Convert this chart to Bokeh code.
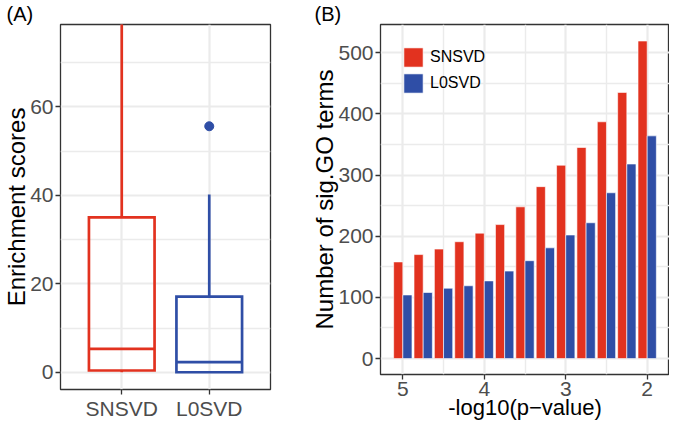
from bokeh.plotting import figure
from bokeh.layouts import row, column
from bokeh.models import (FactorRange, Range1d, FixedTicker, ColumnDataSource,
                          Legend, LegendItem)
from bokeh.transform import dodge
from bokeh.embed import file_html
from bokeh.resources import INLINE

# ---------------- data ----------------
methods = ["SNSVD", "L0SVD"]
box_lower = [0.0, 0.0]
box_q1 = [0.4, 0.0]
box_median = [5.3, 2.3]
box_q3 = [35.0, 17.1]
box_upper = [90.0, 40.2]
outlier_method = ["L0SVD"]
outlier_value = [55.6]

neglog10_p = [5.0, 4.75, 4.5, 4.25, 4.0, 3.75, 3.5, 3.25, 3.0, 2.75, 2.5, 2.25, 2.0]
sig_go_snsvd = [158, 170, 179, 191, 205, 219, 248, 281, 316, 345, 387, 435, 519]
sig_go_l0svd = [104, 108, 115, 119, 127, 143, 160, 181, 202, 222, 271, 318, 364]

a_yticks = [0, 20, 40, 60]
a_yminor = [10, 30, 50, 70]
b_xticks = [2, 3, 4, 5]
b_xminor = [2.5, 3.5, 4.5]
b_yticks = [0, 100, 200, 300, 400, 500]
b_yminor = [50, 150, 250, 350, 450]

# ---------------- style ----------------
RED = "#E2321F"
BLUE = "#2F4EA6"
FONT = "Liberation Sans"
GRID = "#EBEBEB"
DARK = "#333333"
TICKLAB = "#4D4D4D"


def style(p, tag, tag_offset):
    p.outline_line_color = DARK
    p.outline_line_width = 1.3
    p.background_fill_color = "white"
    p.border_fill_color = "white"
    for ax in (p.xaxis, p.yaxis):
        ax.axis_line_color = None
        ax.major_tick_line_color = DARK
        ax.major_tick_line_width = 1.3
        ax.major_tick_out = 5
        ax.major_tick_in = 0
        ax.minor_tick_line_color = None
        ax.major_label_text_font = FONT
        ax.major_label_text_font_size = "21px"
        ax.major_label_text_color = TICKLAB
        ax.major_label_standoff = 2
        ax.axis_label_text_font = FONT
        ax.axis_label_text_font_size = "24px"
        ax.axis_label_text_font_style = "normal"
        ax.axis_label_text_color = "black"
        ax.axis_label_standoff = -3
    for ax in p.xaxis:
        ax.major_label_text_line_height = 0.8
        ax.axis_label_text_line_height = 0.8
    for g in (p.xgrid, p.ygrid):
        g.grid_line_color = GRID
        g.grid_line_width = 2.2
        g.minor_grid_line_color = GRID
        g.minor_grid_line_width = 1.4
    p.title.text = tag
    p.title.align = "left"
    p.title.offset = tag_offset
    p.title.standoff = 0
    p.title.text_font = FONT
    p.title.text_font_size = "20px"
    p.title.text_font_style = "normal"
    p.title.text_color = "black"
    p.title.text_line_height = 0.5


# ---------------- panel A ----------------
pA = figure(width=284, height=422,
            x_range=FactorRange(factors=methods, range_padding=0.2,
                                range_padding_units="absolute"),
            y_range=Range1d(-3.9, 78.6),
            output_backend="svg", toolbar_location=None,
            min_border_left=50, min_border_right=14,
            min_border_top=8, min_border_bottom=26)
style(pA, "(A)", -54)
pA.yaxis.ticker = FixedTicker(ticks=a_yticks, minor_ticks=a_yminor)
pA.yaxis.axis_label = "Enrichment scores"
pA.xaxis.axis_label_standoff = 0
pA.xgrid.minor_grid_line_color = None

srcA = ColumnDataSource(dict(method=methods, lower=box_lower, q1=box_q1,
                             median=box_median, q3=box_q3, upper=box_upper,
                             color=[RED, BLUE]))
lw = 2.7
pA.segment(x0="method", x1="method", y0="q3", y1="upper", line_color="color",
           line_width=lw, source=srcA)
pA.segment(x0="method", x1="method", y0="q1", y1="lower", line_color="color",
           line_width=lw, source=srcA)
pA.vbar(x="method", width=0.75, bottom="q1", top="q3", fill_alpha=0,
        fill_color="white", line_color="color", line_width=lw,
        line_join="miter", source=srcA)
pA.segment(x0=dodge("method", -0.375, range=pA.x_range),
           x1=dodge("method", 0.375, range=pA.x_range),
           y0="median", y1="median", line_color="color", line_width=lw,
           source=srcA)
pA.scatter(x=outlier_method, y=outlier_value, size=9, color=BLUE)

# ---------------- panel B ----------------
pB = figure(width=385, height=422,
            x_range=Range1d(5.274, 1.726), y_range=Range1d(-26, 546),
            output_backend="svg", toolbar_location=None,
            min_border_left=96, min_border_right=0,
            min_border_top=8, min_border_bottom=40)
style(pB, "(B)", -66)
pB.xaxis.ticker = FixedTicker(ticks=b_xticks, minor_ticks=b_xminor)
pB.yaxis.ticker = FixedTicker(ticks=b_yticks, minor_ticks=b_yminor)
pB.xaxis.axis_label = "-log10(p\u2212value)"
pB.xaxis.axis_label_text_font_size = "22px"
pB.xaxis.axis_label_standoff = -4
pB.xaxis.major_label_standoff = 2
pB.yaxis.axis_label = "Number of sig.GO terms"

srcB = ColumnDataSource(dict(p=neglog10_p, sn=sig_go_snsvd, l0=sig_go_l0svd))
rR = pB.vbar(x=dodge("p", 0.05625), top="sn", bottom=0, width=0.1125,
             fill_color=RED, line_color="white", line_width=0.6, source=srcB)
rB = pB.vbar(x=dodge("p", -0.05625), top="l0", bottom=0, width=0.1125,
             fill_color=BLUE, line_color="white", line_width=0.6, source=srcB)

legend = Legend(items=[LegendItem(label="SNSVD", renderers=[rR]),
                       LegendItem(label="L0SVD", renderers=[rB])],
                location="top_left", margin=21, padding=0, spacing=2,
                glyph_width=24, glyph_height=24, label_standoff=5,
                label_text_font=FONT, label_text_font_size="16px",
                label_text_color="black", background_fill_alpha=0,
                border_line_alpha=0)
pB.add_layout(legend)

layout = row(column(pA), column(pB))
open("out.html", "w").write(file_html(layout, INLINE))
